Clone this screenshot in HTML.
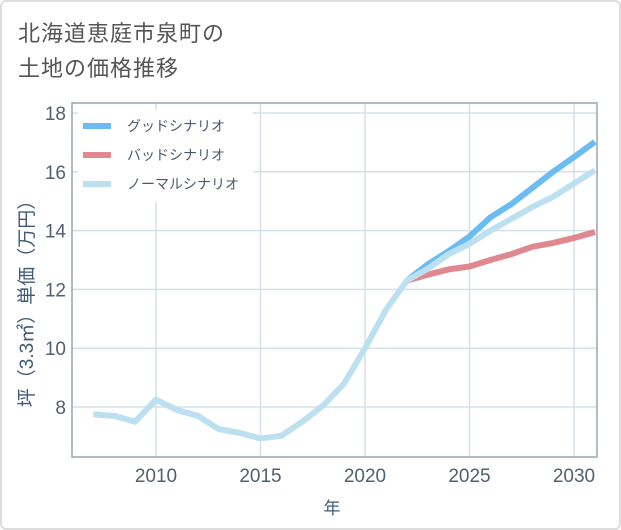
<!DOCTYPE html>
<html><head><meta charset="utf-8"><style>
body{margin:0;background:#fff;font-family:"Liberation Sans","Noto Sans CJK JP",sans-serif}
#wrap{position:relative;width:621px;height:530px;overflow:hidden}
#frame{position:absolute;left:0;top:0;width:617px;height:526px;border:2px solid #ddd;border-radius:6px}
#title{position:absolute;left:18px;top:16px;font-size:22px;line-height:35px;color:#555;letter-spacing:1px}
</style></head><body>
<div id="wrap">
<div id="frame"></div>
<div id="title">北海道恵庭市泉町の<br>土地の価格推移</div>
<svg id="svg" width="621" height="530" style="position:absolute;left:0;top:0"></svg>
</div>
<script>
const years=[2007,2008,2009,2010,2011,2012,2013,2014,2015,2016,2017,2018,2019,2020,2021,2022,2023,2024,2025,2026,2027,2028,2029,2030,2031];
const normal=[7.75,7.7,7.5,8.25,7.9,7.7,7.25,7.12,6.93,7.02,7.5,8.05,8.8,10.0,11.3,12.3,12.7,13.2,13.55,14.0,14.4,14.8,15.15,15.6,16.05];
const fYears=[2022,2023,2024,2025,2026,2027,2028,2029,2030,2031];
const good=[12.3,12.85,13.3,13.8,14.45,14.9,15.45,16.0,16.5,17.02];
const bad=[12.3,12.5,12.68,12.78,13.0,13.2,13.45,13.58,13.75,13.95];
const yTicks=[8,10,12,14,16,18];
const xTicks=[2010,2015,2020,2025,2030];
const L=72,R=597,T=103,B=457;
const x=v=>156+(v-2010)*20.9;
const y=v=>407-(v-8)*29.4;
const svg=document.getElementById('svg');
const NS='http://www.w3.org/2000/svg';
function mk(t,a,p){const e=document.createElementNS(NS,t);for(const k in a)e.setAttribute(k,a[k]);(p||svg).appendChild(e);return e;}
yTicks.forEach(v=>{
 const g=mk('line',{x1:L,x2:R,y1:y(v),y2:y(v),stroke:'#d5e0ea','stroke-width':1.5});
 
 const t=mk('text',{x:66,y:y(v)+7,'text-anchor':'end','font-size':19,fill:'#506070'});t.textContent=v;
 
});
xTicks.forEach(v=>{
 const g=mk('line',{x1:x(v),x2:x(v),y1:T,y2:B,stroke:'#d5e0ea','stroke-width':1.5});
 
 const t=mk('text',{x:x(v),y:482,'text-anchor':'middle','font-size':19,fill:'#506070'});t.textContent=v;
 
});
const ax=mk('path',{d:`M${L},${T}V${B}H${R}V${T}Z`,fill:'none',stroke:'#9aa4ae','stroke-width':1.5});

function line(xs,vs,c,n){const p=mk('polyline',{points:xs.map((X,i)=>x(X)+','+y(vs[i])).join(' '),fill:'none',stroke:c,'stroke-width':6,'stroke-linejoin':'round'});
 }
line(fYears,bad,'#e08890','bad-scenario-line');
line(fYears,good,'#6bbcf2','good-scenario-line');
line(years,normal,'#bde0f0','normal-scenario-line');
const leg=[['グッドシナリオ','#6bbcf2'],['バッドシナリオ','#e08890'],['ノーマルシナリオ','#bde0f0']];
const lb=mk('rect',{x:78,y:110,width:175,height:92,fill:'#fff'});

leg.forEach((d,i)=>{const yy=126+i*29;
 const s=mk('line',{x1:83,x2:111,y1:yy,y2:yy,stroke:d[1],'stroke-width':6});
 
 const t=mk('text',{x:127,y:yy+5,'font-size':14,fill:'#4a5a6a'});t.textContent=d[0];
 
});
const yt=mk('text',{x:0,y:0,transform:'translate(33,299) rotate(-90)','text-anchor':'middle','font-size':19,fill:'#3f5a78'});yt.textContent='坪（3.3㎡）単価（万円）';

const xt=mk('text',{x:332,y:514,'text-anchor':'middle','font-size':17,fill:'#3f5a78'});xt.textContent='年';

</script>
</body></html>
